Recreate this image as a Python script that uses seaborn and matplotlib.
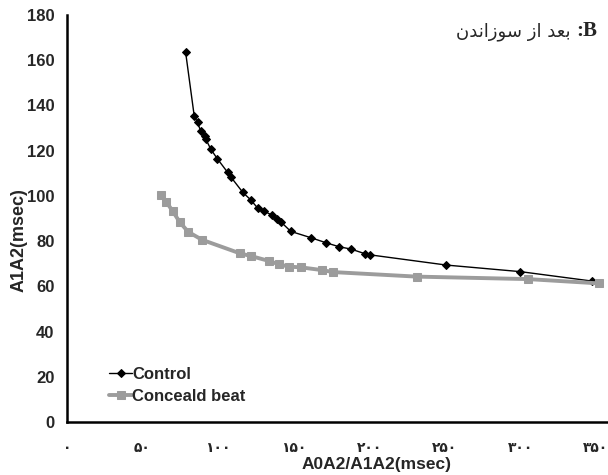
import matplotlib
matplotlib.use("Agg")
import matplotlib.pyplot as plt
import seaborn as sns
import numpy as np

# Data
control_x = [78.5, 84.2, 86.4, 88.4, 91.3, 91.7, 95.2, 99.4, 106.3, 108.5, 116.4, 121.5,
             126.3, 130.3, 135.6, 138.9, 141.5, 148.1, 161.4, 171.3, 180.1, 187.8,
             197.3, 200.8, 251.1, 300.0, 347.7]
control_y = [163.5, 135.3, 132.5, 128.7, 126.5, 125.3, 120.6, 116.5, 110.4, 108.3, 101.5, 98.3,
             94.5, 93.3, 91.5, 89.6, 88.5, 84.3, 81.5, 79.3, 77.5, 76.5,
             74.4, 73.9, 69.4, 66.5, 62.3]
conceal_x = [62.2, 65.5, 69.9, 74.7, 80.2, 89.3, 114.4, 121.7, 133.8, 140.4, 147.0, 154.8,
             168.5, 176.2, 231.3, 305.1, 352.1]
conceal_y = [100.3, 97.5, 93.3, 88.3, 84.1, 80.6, 74.6, 73.4, 71.2, 69.7, 68.7, 68.4,
             67.2, 66.3, 64.3, 63.2, 61.3]

x_ticks = [0, 50, 100, 150, 200, 250, 300, 350]
x_tick_labels = ["۰", "۵۰", "۱۰۰", "۱۵۰", "۲۰۰", "۲۵۰", "۳۰۰", "۳۵۰"]
y_ticks = [0, 20, 40, 60, 80, 100, 120, 140, 160, 180]

series_names = ["Control", "Conceald beat"]
x_label = "A0A2/A1A2(msec)"
y_label = "A1A2(msec)"
# "B: بعد از سوزاندن" written with Arabic presentation forms in visual order
title_fa = "\uFEE5\uFEAA\uFEE7\uFE8D\uFEAF\uFEEE\uFEB3 \uFEAF\uFE8D \uFEAA\uFECC\uFE91"

sns.set_style("white")
plt.rcParams['font.family'] = ['Liberation Sans', 'DejaVu Sans']

fig = plt.figure(figsize=(6.08, 4.75), dpi=100)
ax = fig.add_axes([67/608, 1-422/475, 1-67/608, (422-15)/475])

sns.lineplot(x=control_x, y=control_y, ax=ax, sort=False, color="black", lw=1.0,
             marker="D", markersize=4.5, markeredgecolor="black", label=series_names[0])
sns.lineplot(x=conceal_x, y=conceal_y, ax=ax, sort=False, color="#9c9c9c", lw=2.8,
             marker="s", markersize=5.5, markeredgecolor="#9c9c9c", label=series_names[1])

ax.set_xlim(0, 358)
ax.set_ylim(0, 180)
ax.set_xticks(x_ticks)
ax.set_xticklabels(x_tick_labels, fontsize=10, fontweight="bold", family=["DejaVu Sans"])
ax.set_yticks(y_ticks)
ax.set_yticklabels([str(v) for v in y_ticks], fontsize=12, fontweight="bold")
ax.tick_params(axis="x", direction="in", length=5, width=1.2, pad=14, color="black")
ax.tick_params(axis="y", direction="out", length=4, width=1.2, pad=5, color="black")

for s in ["top", "right"]:
    ax.spines[s].set_visible(False)
for s in ["left", "bottom"]:
    ax.spines[s].set_color("black")
    ax.spines[s].set_linewidth(1.8)

ax.set_xlabel(x_label, fontsize=12.5, fontweight="bold", labelpad=1)
ax.xaxis.set_label_coords(0.573, -0.085)
ax.set_ylabel(y_label, fontsize=13, fontweight="bold", labelpad=2)
ax.yaxis.set_label_coords(-0.073, 0.447)

leg = ax.legend(loc="lower left", bbox_to_anchor=(0.05, 0.007), frameon=False,
                prop={"weight": "bold", "size": 12}, handlelength=1.4, handletextpad=0.0,
                labelspacing=0.45)

base_y = 1 - 36/475
fig.text(597/608, base_y, "B", fontsize=15, fontweight="bold", family=["Liberation Serif"],
         ha="right", va="baseline")
fig.text(583/608, base_y, ":", fontsize=15, fontweight="bold", family=["Liberation Serif"],
         ha="right", va="baseline")
fig.text(570/608, base_y, title_fa, fontsize=13, family=["DejaVu Sans"],
         ha="right", va="baseline")

fig.savefig("out.png", dpi=100)
